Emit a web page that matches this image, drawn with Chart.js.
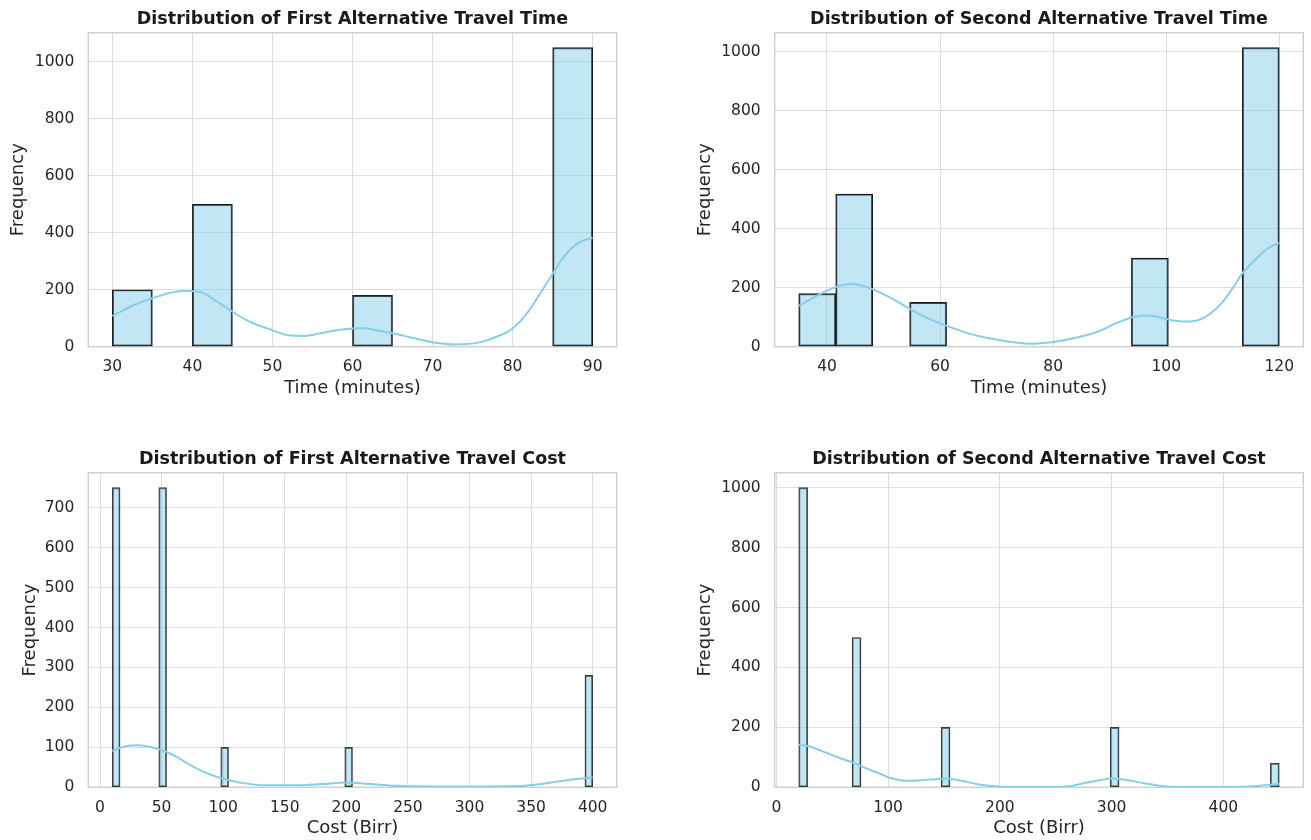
<!DOCTYPE html>
<html>
<head>
<meta charset="utf-8">
<script src="https://cdn.jsdelivr.net/npm/chart.js@4.4.0/dist/chart.umd.min.js"></script>
<style>
  body { margin: 0; background: #fff; width: 1311px; height: 840px; position: relative; overflow: hidden; }
  canvas { position: absolute; }
</style>
</head>
<body>
<canvas id="timeFirst" width="655" height="420" style="left:0;top:0"></canvas>
<canvas id="timeSecond" width="656" height="420" style="left:655px;top:0"></canvas>
<canvas id="costFirst" width="655" height="420" style="left:0;top:420px"></canvas>
<canvas id="costSecond" width="656" height="420" style="left:655px;top:420px"></canvas>
<script>
// ---- data ----
// histogram: [first edge, last edge], number of bins, non-empty bin indexes, counts
const time1Range = [30, 90];
const time1BinCount = 12;
const time1Bins = [0, 2, 6, 11];
const time1Counts = [200, 500, 180, 1050];
const time1KdeX = [30, 33, 35, 37, 39, 41, 43, 45, 47, 50, 52, 54, 56, 58, 60, 61.5, 63, 65, 68, 70, 73, 76, 78, 80, 82, 83.5, 85, 86, 87, 88, 89, 90];
const time1KdeY = [108, 150, 170, 188, 196, 192, 160, 123, 90, 58, 40, 38, 47, 58, 64, 65, 58, 47, 28, 16, 8, 16, 35, 64, 125, 190, 255, 300, 335, 360, 375, 382];

const time2Range = [35, 120];
const time2BinCount = 13;
const time2Bins = [0, 1, 3, 9, 12];
const time2Counts = [180, 517, 150, 300, 1013];
const time2KdeX = [35, 37.5, 40, 42, 44, 46, 48, 50, 52, 55, 58, 60, 63, 66, 69, 72, 76, 80, 84, 88, 91, 94, 96, 98, 100, 102, 104, 106, 108, 110, 112, 113.5, 116, 118, 120];
const time2KdeY = [138, 165, 190, 205, 212, 208, 195, 178, 158, 124, 95, 79, 58, 40, 28, 18, 10, 16, 30, 52, 78, 100, 106, 103, 94, 87, 85, 92, 115, 152, 205, 249, 300, 333, 352];

const cost1Range = [10, 400];
const cost1BinCount = 62;
const cost1Bins = [0, 6, 14, 30, 61];
const cost1Counts = [750, 750, 100, 100, 280];
const cost1KdeX = [10, 20, 31, 42, 54, 63, 72, 80, 88, 95, 102, 110, 118, 128, 140, 160, 180, 200, 220, 240, 270, 310, 340, 355, 370, 385, 400];
const cost1KdeY = [91, 102, 105, 100, 89, 75, 58, 45, 34, 26, 20, 14, 10, 6, 5, 5, 8, 12, 8, 4, 2, 2, 3, 7, 14, 20, 25];

const cost2Range = [20, 450];
const cost2BinCount = 54;
const cost2Bins = [0, 6, 16, 35, 53];
const cost2Counts = [1000, 500, 200, 200, 80];
const cost2KdeX = [20, 28, 36, 46, 58, 70, 80, 88, 95, 102, 108, 114, 122, 132, 142, 150, 158, 168, 180, 190, 200, 215, 240, 260, 277, 290, 300, 312, 330, 348, 370, 410, 430, 440, 450];
const cost2KdeY = [141, 138, 128, 113, 96, 80, 64, 52, 42, 31, 26, 22, 22, 24, 27, 29, 27, 20, 10, 5, 2, 1, 1, 3, 15, 24, 29, 25, 13, 3, 1, 1, 4, 8, 12];

const yTickSteps = [200, 200, 100, 200];
const xTickSteps = [10, 20, 50, 100];

// ---- styling ----
const FONT = "'DejaVu Sans', sans-serif";
const GRID = '#dddddd';
const TEXT = '#262626';

// full list of bins, empty ones as null so the bars keep the bin width
function histPoints(range, binCount, bins, counts) {
  const w = (range[1] - range[0]) / binCount;
  const pts = [];
  for (let i = 0; i < binCount; i++) {
    const k = bins.indexOf(i);
    pts.push({ x: range[0] + (i + 0.5) * w, y: k >= 0 ? counts[k] : null });
  }
  return pts;
}

const framePlugin = { // seaborn draws a light box round every axes
  id: 'frame',
  beforeDatasetsDraw(chart) {
    const a = chart.chartArea, ctx = chart.ctx;
    ctx.save();
    ctx.strokeStyle = '#d0d0d0';
    ctx.lineWidth = 1.5;
    ctx.strokeRect(a.left, a.top, a.right - a.left, a.bottom - a.top);
    ctx.restore();
  }
};

function makeChart(id, cfg) {
  const pad = 0.05 * (cfg.range[1] - cfg.range[0]);
  const yMax = Math.max(...cfg.counts) * 1.05;
  new Chart(document.getElementById(id), {
    type: 'bar',
    data: {
      datasets: [
        {
          type: 'line',
          data: cfg.kdeX.map((x, i) => ({ x: x, y: cfg.kdeY[i] })),
          borderColor: '#87ceeb',
          borderWidth: 2,
          pointRadius: 0,
          cubicInterpolationMode: 'monotone',
          fill: false,
          order: 0
        },
        {
          type: 'bar',
          data: histPoints(cfg.range, cfg.binCount, cfg.bins, cfg.counts),
          backgroundColor: 'rgba(135,206,235,0.5)',
          borderColor: cfg.edge,
          borderWidth: cfg.edgeWidth,
          borderSkipped: false,
          barPercentage: 1,
          categoryPercentage: 1,
          grouped: false,
          order: 1
        }
      ]
    },
    options: {
      responsive: false,
      animation: false,
      devicePixelRatio: 1,
      layout: { padding: cfg.layoutPad },
      plugins: {
        legend: { display: false },
        tooltip: { enabled: false },
        title: {
          display: true,
          text: cfg.title,
          fullSize: false,
          color: '#1a1a1a',
          font: { family: FONT, size: 17.5, weight: 'bold' },
          padding: cfg.titlePad
        }
      },
      scales: {
        x: {
          type: 'linear',
          offset: false,
          min: cfg.range[0] - pad,
          max: cfg.range[1] + pad,
          grid: { color: GRID, drawTicks: false, offset: false },
          border: { display: false },
          ticks: { stepSize: cfg.xStep, includeBounds: false, padding: 11, color: TEXT, font: { family: FONT, size: 15.5 }, callback: (v) => String(v) },
          title: { display: true, text: cfg.xTitle, color: TEXT, font: { family: FONT, size: 18 }, padding: { top: 0, bottom: cfg.xTitlePad } },
          afterFit(s) { s.height = cfg.xHeight; }
        },
        y: {
          min: 0,
          max: yMax,
          grid: { color: GRID, drawTicks: false },
          border: { display: false },
          ticks: { stepSize: cfg.yStep, includeBounds: false, padding: 14, color: TEXT, font: { family: FONT, size: 15.5 }, callback: (v) => String(v) },
          title: { display: true, text: 'Frequency', color: TEXT, font: { family: FONT, size: 18 }, padding: { top: cfg.yTitlePad, bottom: 0 } },
          afterFit(s) { s.width = cfg.yWidth; }
        }
      }
    },
    plugins: [framePlugin]
  });
}

makeChart('timeFirst', {
  title: 'Distribution of First Alternative Travel Time', xTitle: 'Time (minutes)',
  range: time1Range, binCount: time1BinCount, bins: time1Bins, counts: time1Counts,
  kdeX: time1KdeX, kdeY: time1KdeY, xStep: xTickSteps[0], yStep: yTickSteps[0],
  edge: '#1a1a1a', edgeWidth: 1.3,
  layoutPad: { left: 0, right: 38.3, top: 0, bottom: 0 },
  titlePad: { top: 8.5, bottom: 3.2 }, yWidth: 88.3, xHeight: 73.3, yTitlePad: 7.5, xTitlePad: 20.5
});
makeChart('timeSecond', {
  title: 'Distribution of Second Alternative Travel Time', xTitle: 'Time (minutes)',
  range: time2Range, binCount: time2BinCount, bins: time2Bins, counts: time2Counts,
  kdeX: time2KdeX, kdeY: time2KdeY, xStep: xTickSteps[1], yStep: yTickSteps[1],
  edge: '#1a1a1a', edgeWidth: 1.3,
  layoutPad: { left: 0, right: 7.7, top: 0, bottom: 0 },
  titlePad: { top: 8.5, bottom: 3.2 }, yWidth: 119.7, xHeight: 73.3, yTitlePad: 40, xTitlePad: 20.5
});
makeChart('costFirst', {
  title: 'Distribution of First Alternative Travel Cost', xTitle: 'Cost (Birr)',
  range: cost1Range, binCount: cost1BinCount, bins: cost1Bins, counts: cost1Counts,
  kdeX: cost1KdeX, kdeY: cost1KdeY, xStep: xTickSteps[2], yStep: yTickSteps[2],
  edge: '#3a3a3a', edgeWidth: 1.2,
  layoutPad: { left: 0, right: 38.3, top: 0, bottom: 0 },
  titlePad: { top: 28.5, bottom: 3.2 }, yWidth: 88.3, xHeight: 52.7, yTitlePad: 19.3, xTitlePad: 1
});
makeChart('costSecond', {
  title: 'Distribution of Second Alternative Travel Cost', xTitle: 'Cost (Birr)',
  range: cost2Range, binCount: cost2BinCount, bins: cost2Bins, counts: cost2Counts,
  kdeX: cost2KdeX, kdeY: cost2KdeY, xStep: xTickSteps[3], yStep: yTickSteps[3],
  edge: '#3a3a3a', edgeWidth: 1.2,
  layoutPad: { left: 0, right: 7.7, top: 0, bottom: 0 },
  titlePad: { top: 28.5, bottom: 3.2 }, yWidth: 119.7, xHeight: 52.7, yTitlePad: 40, xTitlePad: 1
});
</script>
</body>
</html>
